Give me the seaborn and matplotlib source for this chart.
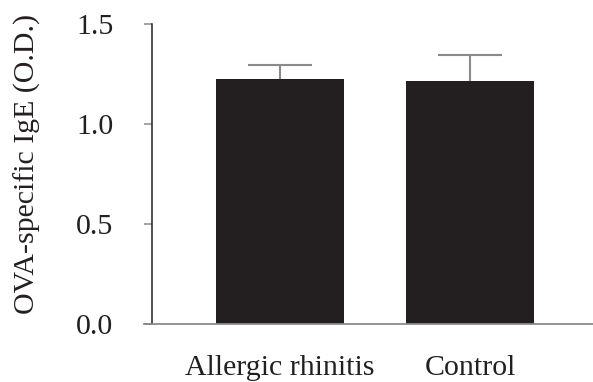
import matplotlib
matplotlib.use("Agg")
import matplotlib.pyplot as plt
import seaborn as sns
import pandas as pd

# OVA-specific IgE optical density by group
groups = ["Allergic rhinitis", "Control"]
means = [1.225, 1.215]
errors = [0.07, 0.13]
y_ticks = [0.0, 0.5, 1.0, 1.5]
y_tick_labels = ["0.0", "0.5", "1.0", "1.5"]

sns.set_style("white")
plt.rcParams["font.family"] = ["Liberation Serif", "DejaVu Serif"]

W, H = 593, 382
FS = 21.5
fig = plt.figure(figsize=(W / 100, H / 100), dpi=100)
ax = fig.add_axes([144 / W, (H - 324) / H, (W - 144) / W, 300 / H])

df = pd.DataFrame({"group": groups, "od": means})
sns.barplot(data=df, x="group", y="od", color="#231f20", saturation=1,
            width=0.674, errorbar=None, ax=ax, zorder=2)
for p in ax.patches:
    p.set_edgecolor("none")

# error bars sit behind the bars, so only the upper half shows
ax.errorbar(range(len(groups)), means, yerr=errors,
            fmt="none", ecolor="#8a8a8a", elinewidth=1.5, capsize=22.7,
            capthick=1.5, zorder=1)

ax.set_xlim(-136 / 190, 1 + 123 / 190)
ax.set_ylim(0, 1.5)
ax.set_yticks(y_ticks)
ax.set_yticklabels(y_tick_labels)

sns.despine(ax=ax, top=True, right=True)
ax.spines["left"].set_position(("axes", 8 / 449))
ax.spines["left"].set_color("#231f20")
ax.spines["left"].set_linewidth(1.1)
ax.spines["bottom"].set_color("#8a8a8a")
ax.spines["bottom"].set_linewidth(1.3)

ax.tick_params(axis="y", direction="out", length=5.8, width=1.1,
               color="#8a8a8a", pad=22, labelsize=FS, labelcolor="#231f20",
               left=True)
ax.tick_params(axis="x", length=0, pad=22, labelsize=FS, labelcolor="#231f20")

ax.set_xlabel("")
ax.set_ylabel("OVA-specific IgE (O.D.)", fontsize=FS, color="#231f20",
              va="center")
ax.yaxis.set_label_coords(27 / W, 1 - 164 / H, transform=fig.transFigure)

fig.savefig("out.png", dpi=100)
